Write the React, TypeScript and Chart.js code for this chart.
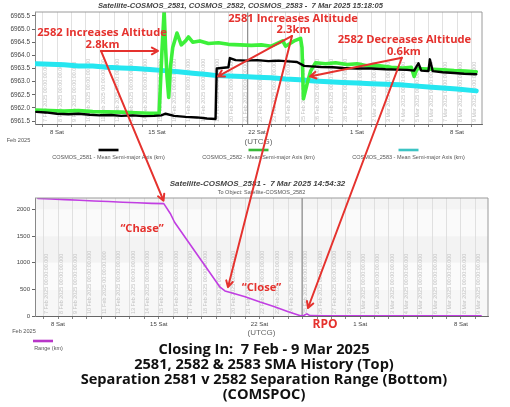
import React, { useEffect, useRef } from 'react';
import { Chart, registerables } from 'chart.js';
Chart.register(...registerables);

// ---------- data (day of Feb 2025; 29 = 1 Mar) ----------
const days2581 = [6.55, 7.2, 8, 8.8, 9.5, 10.3, 11, 11.8, 12.5, 13.3, 14, 14.8, 15.3, 15.6, 16.2, 17, 17.8, 18.5, 19.1, 19.18, 19.5, 20.0, 20.1, 20.5, 21.2, 22, 22.8, 23.5, 24.2, 24.8, 25.3, 25.8, 26.5, 27.3, 28, 29, 30, 31, 31.8, 32.5, 33.0, 33.3, 33.5, 34.0, 34.1, 34.3, 35, 35.8, 36.5, 37.35];
const sma2581 = [6961.85, 6961.83, 6961.78, 6961.76, 6961.78, 6961.74, 6961.72, 6961.73, 6961.7, 6961.72, 6961.69, 6961.7, 6961.72, 6961.78, 6961.7, 6961.66, 6961.64, 6961.6, 6961.58, 6963.5, 6963.52, 6963.55, 6963.9, 6963.82, 6963.8, 6963.82, 6963.78, 6963.8, 6963.77, 6963.75, 6963.6, 6963.58, 6963.56, 6963.55, 6963.52, 6963.5, 6963.5, 6963.47, 6963.46, 6963.45, 6963.42, 6963.7, 6963.42, 6963.4, 6963.85, 6963.4, 6963.36, 6963.33, 6963.3, 6963.28];

const days2582 = [6.55, 7.5, 8.5, 9.5, 10.5, 11.5, 12.5, 13.5, 14.5, 15.15, 15.35, 15.5, 15.6, 15.7, 15.82, 15.95, 16.1, 16.4, 16.7, 17.0, 17.2, 17.5, 18, 18.6, 19.3, 20, 20.8, 21.6, 22.3, 23.0, 23.8, 24.0, 24.6, 25.05, 25.15, 25.25, 25.5, 25.75, 26.1, 26.8, 27.5, 28.3, 29, 29.8, 30.6, 31.4, 32.2, 32.8, 33.0, 33.2, 34, 35, 35.8, 36.6, 37.35];
const sma2582 = [6961.92, 6961.9, 6961.88, 6961.9, 6961.86, 6961.85, 6961.84, 6961.82, 6961.8, 6961.8, 6964.2, 6965.7, 6964.3, 6963.2, 6962.4, 6963.6, 6964.3, 6964.85, 6964.4, 6964.55, 6964.7, 6964.5, 6964.55, 6964.45, 6964.48, 6964.42, 6964.4, 6964.38, 6964.4, 6964.35, 6964.55, 6964.35, 6964.55, 6964.65, 6964.3, 6962.35, 6962.9, 6963.4, 6963.72, 6963.68, 6963.72, 6963.65, 6963.68, 6963.6, 6963.6, 6963.55, 6963.52, 6963.55, 6963.2, 6963.5, 6963.48, 6963.45, 6963.42, 6963.4, 6963.38];

const days2583 = [6.55, 7.5, 8.5, 9.5, 10.5, 11.5, 12.5, 13.5, 14.5, 15.5, 16.5, 17.5, 18.5, 19.2, 20, 21, 22, 23, 24, 25, 26, 27, 28, 29, 30, 31, 32, 33, 34, 35, 36, 37.35];
const sma2583 = [6963.68, 6963.66, 6963.64, 6963.6, 6963.6, 6963.55, 6963.52, 6963.5, 6963.46, 6963.42, 6963.38, 6963.32, 6963.27, 6963.23, 6963.22, 6963.2, 6963.17, 6963.15, 6963.1, 6963.07, 6963.03, 6963.0, 6962.97, 6962.95, 6962.92, 6962.9, 6962.88, 6962.84, 6962.8, 6962.76, 6962.72, 6962.65];

const rangeDays = [6.6, 7.5, 8.5, 9.5, 10.5, 11.5, 12.5, 13.5, 14.5, 15.35, 15.8, 16.1, 19.26, 19.6, 20.1, 21.0, 22.04, 23.0, 24.0, 24.85, 25.1, 25.3, 25.5, 26.5, 28, 30, 32, 34, 36, 37.4];
const rangeKm = [2205, 2195, 2185, 2172, 2160, 2148, 2135, 2125, 2115, 2110, 1925, 1760, 540, 470, 430, 360, 262, 180, 80, 5, 15, 40, 8, 5, 6, 5, 6, 5, 5, 5];

const gridDays = [7, 8, 9, 10, 11, 12, 13, 14, 15, 16, 17, 18, 19, 20, 21, 22, 23, 24, 25, 26, 27, 28, 29, 30, 31, 32, 33, 34, 35, 36, 37];
const weekLabels: Record<number, string> = { 8: '8 Sat', 15: '15 Sat', 22: '22 Sat', 29: '1 Sat', 36: '8 Sat' };
const smaTicks = [6961.5, 6962.0, 6962.5, 6963.0, 6963.5, 6964.0, 6964.5, 6965.0, 6965.5];
const rangeTicks = [0, 500, 1000, 1500, 2000];

const seriesLabels = ['COSMOS_2581 - Mean Semi-major Axis (km)', 'COSMOS_2582 - Mean Semi-major Axis (km)', 'COSMOS_2583 - Mean Semi-major Axis (km)'];
const rangeLabel = 'Range (km)';
const topTitle = 'Satellite-COSMOS_2581, COSMOS_2582, COSMOS_2583 -  7 Mar 2025 15:18:05';
const bottomTitle = 'Satellite-COSMOS_2581 -  7 Mar 2025 14:54:32';
const bottomSubtitle = 'To Object: Satellite-COSMOS_2582';
const captionLines = ['Closing In:  7 Feb - 9 Mar 2025', '2581, 2582 & 2583 SMA History (Top)', 'Separation 2581 v 2582 Separation Range (Bottom)', '(COMSPOC)'];

// annotations in data coordinates of the chart they belong to
const redTexts: [string, number, number, string, number][] = [
  ['top', 11.15, 6964.85, '2582 Increases Altitude', 11.2],
  ['top', 11.19, 6964.4, '2.8km', 11.2],
  ['top', 24.52, 6965.41, '2581 Increases Altitude', 11.2],
  ['top', 24.55, 6964.96, '2.3km', 11.2],
  ['top', 32.32, 6964.59, '2582 Decreases Altitude', 11.2],
  ['top', 32.28, 6964.15, '0.6km', 11.2],
  ['bot', 13.84, 1645, '\u201cChase\u201d', 11.2],
  ['bot', 22.14, 523, '\u201cClose\u201d', 11.2],
  ['bot', 26.55, -157, 'RPO', 12],
];
const redArrows: [string, number, number, string, number, number][] = [
  ['top', 11.08, 6964.17, 'top', 15.07, 6964.17],
  ['top', 11.08, 6964.17, 'bot', 15.33, 2165],
  ['top', 24.45, 6964.74, 'top', 19.27, 6963.2],
  ['top', 24.45, 6964.74, 'bot', 19.81, 542],
  ['top', 32.14, 6963.91, 'top', 25.7, 6963.2],
  ['top', 32.14, 6963.91, 'bot', 25.37, 150],
];

const TOP_Y = 0;
const BOT_Y = 172;
const SANS = '"Liberation Sans", Arial, sans-serif';
const RED = '#e5322e';

const toXY = (xs: number[], ys: number[]) => xs.map((x, i) => ({ x, y: ys[i] }));
const dateLabel = (d: number) => (d <= 28 ? `${d} Feb 2025 00:00:00.000` : `${d - 28} Mar 2025 00:00:00.000`);

type DecorCfg = {
  title: string; titleSize: number; titleCx: number; titleY: number;
  subtitle?: string; subtitleY?: number;
  legend: { label: string; color: string; lineCx: number; textCx: number }[];
  legendLineDy: number; legendTextDy: number;
  febDx: number; febDy: number; utcgDy: number;
  bands?: { from: number; to: number; color: string }[];
  markerDay: number;
};

function makeDecor(cfg: DecorCfg) {
  return {
    id: 'decor',
    beforeDraw(chart: any) {
      const { ctx, chartArea: a, scales } = chart;
      ctx.save();
      ctx.fillStyle = '#fff';
      ctx.fillRect(0, 0, chart.width, chart.height);
      if (cfg.bands) {
        for (const b of cfg.bands) {
          const y1 = scales.y.getPixelForValue(Math.min(b.to, scales.y.max));
          const y2 = scales.y.getPixelForValue(b.from);
          ctx.fillStyle = b.color;
          ctx.fillRect(a.left, y1, a.right - a.left, y2 - y1);
        }
      }
      ctx.restore();
    },
    beforeDatasetsDraw(chart: any) {
      const { ctx, chartArea: a, scales } = chart;
      ctx.save();
      ctx.beginPath();
      ctx.rect(a.left, a.top, a.right - a.left, a.bottom - a.top);
      ctx.clip();
      ctx.fillStyle = '#c4c4c4';
      ctx.font = `5.4px ${SANS}`;
      ctx.textAlign = 'left';
      ctx.textBaseline = 'middle';
      for (const d of gridDays) {
        const x = scales.x.getPixelForValue(d);
        if (x < a.left || x > a.right) continue;
        ctx.save();
        ctx.translate(x + 3.2, a.bottom - 2);
        ctx.rotate(-Math.PI / 2);
        ctx.fillText(dateLabel(d), 0, 0);
        ctx.restore();
      }
      const mx = scales.x.getPixelForValue(cfg.markerDay);
      ctx.strokeStyle = '#777';
      ctx.lineWidth = 1;
      ctx.beginPath();
      ctx.moveTo(mx, a.top);
      ctx.lineTo(mx, a.bottom);
      ctx.stroke();
      ctx.restore();
    },
    afterDraw(chart: any) {
      const { ctx, chartArea: a } = chart;
      ctx.save();
      ctx.strokeStyle = '#9a9a9a';
      ctx.lineWidth = 1;
      ctx.beginPath();
      ctx.moveTo(a.left, a.top);
      ctx.lineTo(a.right, a.top);
      ctx.lineTo(a.right, a.bottom);
      ctx.stroke();
      ctx.textAlign = 'center';
      ctx.textBaseline = 'middle';
      ctx.fillStyle = '#444';
      ctx.font = `italic bold ${cfg.titleSize}px ${SANS}`;
      ctx.fillText(cfg.title, cfg.titleCx, cfg.titleY);
      if (cfg.subtitle) {
        ctx.fillStyle = '#555';
        ctx.font = `5.5px ${SANS}`;
        ctx.fillText(cfg.subtitle, (a.left + a.right) / 2, cfg.subtitleY);
      }
      ctx.fillStyle = '#555';
      ctx.font = `5.6px ${SANS}`;
      ctx.fillText('Feb 2025', a.left + cfg.febDx, a.bottom + cfg.febDy);
      ctx.fillStyle = '#666';
      ctx.font = `8px ${SANS}`;
      ctx.fillText('(UTCG)', (a.left + a.right) / 2, a.bottom + cfg.utcgDy);
      ctx.font = `5.5px ${SANS}`;
      for (const item of cfg.legend) {
        ctx.strokeStyle = item.color;
        ctx.lineWidth = 2.6;
        ctx.beginPath();
        ctx.moveTo(item.lineCx - 10, a.bottom + cfg.legendLineDy);
        ctx.lineTo(item.lineCx + 10, a.bottom + cfg.legendLineDy);
        ctx.stroke();
        ctx.fillStyle = '#555';
        ctx.fillText(item.label, item.textCx, a.bottom + cfg.legendTextDy);
      }
      ctx.restore();
    },
  };
}

function xScale(min: number, max: number, h: number) {
  return {
    type: 'linear', min, max,
    afterBuildTicks: (s: any) => { s.ticks = gridDays.map((v) => ({ value: v })); },
    afterFit: (s: any) => { s.height = h; },
    ticks: {
      autoSkip: false, maxRotation: 0, minRotation: 0, padding: 2,
      font: { size: 6, family: SANS }, color: '#444',
      callback: (v: any) => weekLabels[v] ?? '',
    },
    grid: { color: '#d9d9d9', lineWidth: 0.8, tickLength: 3, tickColor: '#666' },
    border: { color: '#666' },
  };
}

function yScale(min: number, max: number, ticks: number[], fmt: (v: number) => string, size: number) {
  return {
    type: 'linear', min, max,
    afterBuildTicks: (s: any) => { s.ticks = ticks.map((v) => ({ value: v })); },
    afterFit: (s: any) => { s.width = 35; },
    ticks: { autoSkip: false, padding: 2, font: { size, family: SANS }, color: '#444', callback: (v: any) => fmt(v) },
    grid: { drawOnChartArea: false, tickLength: 3, tickColor: '#666' },
    border: { color: '#888' },
  };
}

export default function App() {
  const topRef = useRef<HTMLCanvasElement>(null);
  const botRef = useRef<HTMLCanvasElement>(null);
  const ovRef = useRef<HTMLCanvasElement>(null);

  useEffect(() => {
    document.body.style.margin = '0';
    const common = {
      responsive: false,
      animation: false,
      events: [],
      elements: { point: { radius: 0 }, line: { tension: 0, borderJoinStyle: 'round', borderCapStyle: 'round' } },
      plugins: { legend: { display: false }, tooltip: { enabled: false }, title: { display: false } },
    };
    const legendColors = ['#000000', '#38b838', '#3cc4c4'];
    const c1 = new Chart(topRef.current as HTMLCanvasElement, {
      type: 'line',
      data: {
        datasets: [
          { label: seriesLabels[0], data: toXY(days2581, sma2581), borderColor: '#000000', borderWidth: 2.4, order: 0 },
          { label: seriesLabels[1], data: toXY(days2582, sma2582), borderColor: '#3df03a', borderWidth: 3.6, order: 1 },
          { label: seriesLabels[2], data: toXY(days2583, sma2583), borderColor: '#25e6f0', borderWidth: 5, order: 2 },
        ],
      },
      options: {
        ...common,
        layout: { padding: { left: 0, right: 28, top: 12, bottom: 0 } },
        scales: {
          x: xScale(6.46, 37.75, 46),
          y: yScale(6961.39, 6965.65, smaTicks, (v) => v.toFixed(1), 6.4),
        },
      } as any,
      plugins: [makeDecor({
        title: topTitle, titleSize: 7.6, titleCx: 240.5, titleY: 5.5,
        legend: seriesLabels.map((l, i) => ({ label: l, color: legendColors[i], lineCx: 108.5 + i * 150, textCx: 108.5 + i * 150 })),
        legendLineDy: 26, legendTextDy: 33,
        febDx: -16.5, febDy: 16, utcgDy: 18,
        markerDay: 21.35,
      })],
    } as any);

    const c2 = new Chart(botRef.current as HTMLCanvasElement, {
      type: 'line',
      data: {
        datasets: [
          { label: rangeLabel, data: toXY(rangeDays, rangeKm), borderColor: '#c13ee2', borderWidth: 1.6 },
        ],
      },
      options: {
        ...common,
        layout: { padding: { left: 0, right: 22, top: 26, bottom: 0 } },
        scales: {
          x: xScale(6.4, 37.88, 44),
          y: yScale(0, 2215, rangeTicks, (v) => String(v), 6),
        },
      } as any,
      plugins: [makeDecor({
        title: bottomTitle, titleSize: 8, titleCx: 257.5, titleY: 12,
        subtitle: bottomSubtitle, subtitleY: 20,
        legend: [{ label: rangeLabel, color: '#b836c8', lineCx: 43, textCx: 48.5 }],
        legendLineDy: 25, legendTextDy: 32,
        febDx: -11, febDy: 15, utcgDy: 17,
        bands: [
          { from: 0, to: 500, color: '#f7f7f7' },
          { from: 500, to: 1000, color: '#fbfbfb' },
          { from: 1000, to: 1500, color: '#f3f3f3' },
          { from: 1500, to: 2000, color: '#fafafa' },
          { from: 2000, to: 2215, color: '#f4f4f4' },
        ],
        markerDay: 24.96,
      })],
    } as any);

    const drawOverlay = () => {
      const cv = ovRef.current;
      if (!cv) return;
      const dpr = window.devicePixelRatio || 1;
      cv.width = 510 * dpr;
      cv.height = 407 * dpr;
      const ctx = cv.getContext('2d') as CanvasRenderingContext2D;
      ctx.setTransform(dpr, 0, 0, dpr, 0, 0);
      ctx.clearRect(0, 0, 510, 407);
      const pt = (w: string, d: number, v: number): [number, number] => {
        const ch: any = w === 'top' ? c1 : c2;
        const off = w === 'top' ? TOP_Y : BOT_Y;
        return [ch.scales.x.getPixelForValue(d), ch.scales.y.getPixelForValue(v) + off];
      };
      ctx.strokeStyle = RED;
      ctx.lineWidth = 2;
      ctx.lineCap = 'round';
      ctx.lineJoin = 'round';
      for (const [w1, d1, v1, w2, d2, v2] of redArrows) {
        const [x1, y1] = pt(w1, d1, v1);
        const [x2, y2] = pt(w2, d2, v2);
        const ang = Math.atan2(y2 - y1, x2 - x1);
        ctx.beginPath();
        ctx.moveTo(x1, y1);
        ctx.lineTo(x2, y2);
        ctx.moveTo(x2 - 7 * Math.cos(ang - 0.5), y2 - 7 * Math.sin(ang - 0.5));
        ctx.lineTo(x2, y2);
        ctx.lineTo(x2 - 7 * Math.cos(ang + 0.5), y2 - 7 * Math.sin(ang + 0.5));
        ctx.stroke();
      }
      ctx.fillStyle = RED;
      ctx.textAlign = 'center';
      ctx.textBaseline = 'middle';
      for (const [w, d, v, t, size] of redTexts) {
        const [x, y] = pt(w, d, v);
        ctx.font = `bold ${size}px "Open Sans", sans-serif`;
        ctx.fillText(t, x, y);
      }
    };
    drawOverlay();
    const fonts: any = (document as any).fonts;
    if (fonts && fonts.ready) fonts.ready.then(drawOverlay);

    return () => {
      c1.destroy();
      c2.destroy();
    };
  }, []);

  return (
    <div style={{ position: 'relative', width: 510, height: 407, background: '#fff', overflow: 'hidden' }}>
      <canvas ref={topRef} width={510} height={170} style={{ position: 'absolute', left: 0, top: TOP_Y, width: 510, height: 170 }} />
      <canvas ref={botRef} width={510} height={188} style={{ position: 'absolute', left: 0, top: BOT_Y, width: 510, height: 188 }} />
      <div
        style={{
          position: 'absolute', left: 9, top: 340.5, width: 510, textAlign: 'center',
          fontFamily: '"Open Sans", sans-serif', fontWeight: 700, fontSize: 14.6, lineHeight: '15px',
          color: '#111', whiteSpace: 'pre',
        }}
      >
        {captionLines.map((l, i) => (<div key={i}>{l}</div>))}
      </div>
      <canvas ref={ovRef} style={{ position: 'absolute', left: 0, top: 0, width: 510, height: 407, pointerEvents: 'none' }} />
    </div>
  );
}
